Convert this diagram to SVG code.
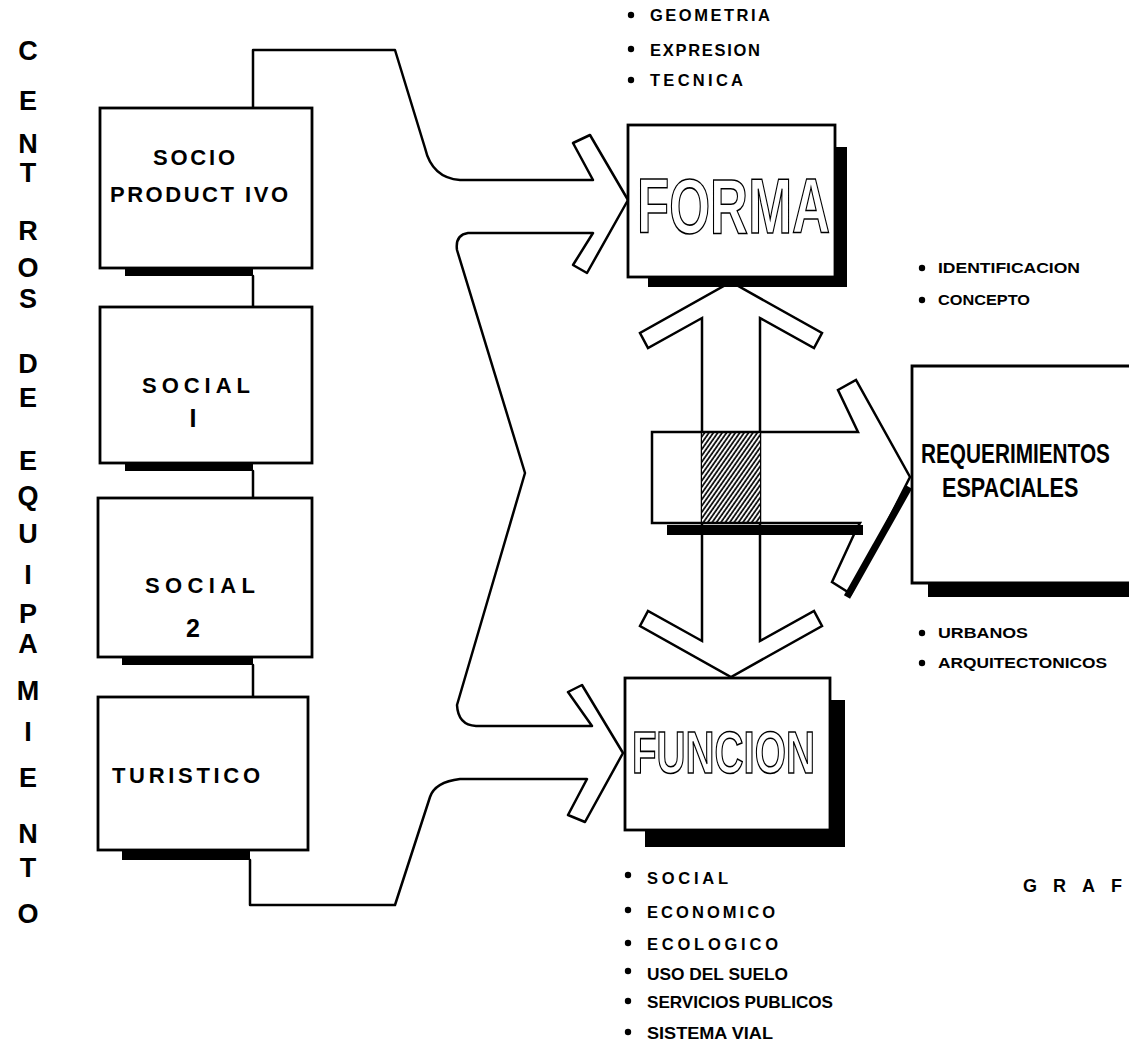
<svg xmlns="http://www.w3.org/2000/svg" width="1129" height="1042" viewBox="0 0 1129 1042">
<defs>
<style>
.ln{fill:none;stroke:#000;stroke-width:2.5;stroke-linejoin:round;stroke-linecap:round}
.box{fill:#fff;stroke:#000;stroke-width:2.8}
.sh{fill:#000;stroke:none}
.t{font-family:"Liberation Sans",Arial,sans-serif;font-weight:bold;fill:#000}
.v{font-size:27px;text-anchor:middle}
.n{font-size:22px}
.li{font-size:16.5px}
.big{fill:#fff;stroke:#000;stroke-width:1.6;font-family:"Liberation Sans",Arial,sans-serif;font-weight:bold}
</style>
<pattern id="hatch" patternUnits="userSpaceOnUse" width="3.6" height="3.6" patternTransform="rotate(35)">
<rect x="0" y="0" width="3.6" height="3.6" fill="#fff"/>
<line x1="1" y1="0" x2="1" y2="3.6" stroke="#000" stroke-width="1.7"/>
</pattern>
</defs>
<rect width="1129" height="1042" fill="#fff"/>

<g id="title">
<text class="t v" x="28" y="60">C</text>
<text class="t v" x="28" y="110">E</text>
<text class="t v" x="28" y="153">N</text>
<text class="t v" x="28" y="182">T</text>
<text class="t v" x="28" y="240">R</text>
<text class="t v" x="28" y="277">O</text>
<text class="t v" x="28" y="308">S</text>
<text class="t v" x="28" y="373">D</text>
<text class="t v" x="28" y="407">E</text>
<text class="t v" x="28" y="470">E</text>
<text class="t v" x="28" y="505">Q</text>
<text class="t v" x="28" y="543">U</text>
<text class="t v" x="28" y="584">I</text>
<text class="t v" x="28" y="623">P</text>
<text class="t v" x="28" y="653">A</text>
<text class="t v" x="28" y="700">M</text>
<text class="t v" x="28" y="741">I</text>
<text class="t v" x="28" y="787">E</text>
<text class="t v" x="28" y="843">N</text>
<text class="t v" x="28" y="877">T</text>
<text class="t v" x="28" y="923">O</text>
</g>

<g id="connectors">
<path class="ln" d="M253,276 V307 M253,471 V498 M253,665 V697"/>
<path class="ln" d="M253,108 V50 H395 L425,148 Q432,178 460,180 H593 L573,143 L590,135 L628,200 L587,273 L573,265 L593,233 H468 Q455,235 457,250 L525,473 L457,705 Q458,725 476,726 H592 L568,692 L582,685 L623,753 L585,822 L568,815 L587,779 H460 Q435,782 430,797 L395,905 H250 V860"/>
<path d="M702,641 V318 L648,348 L640,333 L731,282 L822,333 L814,348 L760,318 V641 L814,611 L822,626 L731,677 L640,626 L648,611 Z" fill="none" stroke="#000" stroke-width="2.5" stroke-linejoin="miter"/>
<rect x="702" y="433" width="58" height="89" fill="url(#hatch)"/>
<path class="ln" d="M652,432 H858 L838,390 L856,380 L910,477 L851,594 L832,582 L856,530 L860,523 H652 Z" style="stroke-linejoin:miter"/>
<rect class="sh" x="667" y="525" width="196" height="10"/>
<line x1="909" y1="487" x2="847" y2="597" stroke="#000" stroke-width="7"/>
</g>

<g id="socio-productivo">
<rect class="sh" x="125" y="266" width="128" height="10"/>
<rect class="box" x="100" y="108" width="212" height="160"/>
<text class="t n" x="153" y="165" textLength="82" lengthAdjust="spacing">SOCIO</text>
<text class="t n" x="110" y="202" textLength="178" lengthAdjust="spacing">PRODUCT IVO</text>
</g>

<g id="social-1">
<rect class="sh" x="125" y="461" width="128" height="10"/>
<rect class="box" x="100" y="307" width="212" height="156"/>
<text class="t n" x="142" y="393" textLength="108" lengthAdjust="spacing">SOCIAL</text>
<text class="t" x="193" y="427" font-size="25" text-anchor="middle">I</text>
</g>

<g id="social-2">
<rect class="sh" x="122" y="655" width="131" height="10"/>
<rect class="box" x="98" y="498" width="214" height="159"/>
<text class="t n" x="145" y="593" textLength="110" lengthAdjust="spacing">SOCIAL</text>
<text class="t" x="193" y="637" font-size="25" text-anchor="middle">2</text>
</g>

<g id="turistico">
<rect class="sh" x="122" y="848" width="128" height="12"/>
<rect class="box" x="98" y="697" width="210" height="153"/>
<text class="t n" x="112" y="783" textLength="148" lengthAdjust="spacing">TURISTICO</text>
</g>

<g id="forma">
<rect class="sh" x="648" y="147" width="199" height="140"/>
<rect class="box" x="628" y="125" width="207" height="152"/>
<text class="big" x="637" y="233" font-size="78" textLength="193" lengthAdjust="spacingAndGlyphs">FORMA</text>
<circle cx="631" cy="15" r="3.2"/>
<circle cx="631" cy="49" r="3.2"/>
<circle cx="631" cy="80" r="3.2"/>
<text class="t li" x="650" y="21" textLength="120" lengthAdjust="spacing">GEOMETRIA</text>
<text class="t li" x="650" y="56" textLength="110" lengthAdjust="spacing">EXPRESION</text>
<text class="t li" x="650" y="86" textLength="93" lengthAdjust="spacing">TECNICA</text>
</g>

<g id="funcion">
<rect class="sh" x="645" y="700" width="200" height="147"/>
<rect class="box" x="625" y="678" width="205" height="152"/>
<text class="big" x="632" y="773" font-size="60" textLength="183" lengthAdjust="spacingAndGlyphs">FUNCION</text>
<circle cx="628" cy="875" r="3.2"/>
<circle cx="628" cy="910" r="3.2"/>
<circle cx="628" cy="943" r="3.2"/>
<circle cx="628" cy="971" r="3.2"/>
<circle cx="628" cy="1001" r="3.2"/>
<circle cx="628" cy="1032" r="3.2"/>
<text class="t li" x="647" y="884" textLength="81" lengthAdjust="spacing">SOCIAL</text>
<text class="t li" x="647" y="918" textLength="128" lengthAdjust="spacing">ECONOMICO</text>
<text class="t li" x="647" y="950" textLength="131" lengthAdjust="spacing">ECOLOGICO</text>
<text class="t li" x="647" y="980" textLength="141" lengthAdjust="spacingAndGlyphs">USO DEL SUELO</text>
<text class="t li" x="647" y="1008" textLength="186" lengthAdjust="spacingAndGlyphs">SERVICIOS PUBLICOS</text>
<text class="t li" x="647" y="1039" textLength="126" lengthAdjust="spacingAndGlyphs">SISTEMA VIAL</text>
</g>

<g id="requerimientos">
<rect class="sh" x="928" y="390" width="201" height="207"/>
<rect x="912" y="366" width="217" height="217" fill="#fff"/>
<path d="M1129,366 H912 V583 H1129" fill="none" stroke="#000" stroke-width="2.8"/>
<text class="t" font-size="27" transform="translate(921,463) scale(0.77,1)">REQUERIMIENTOS</text>
<text class="t" font-size="27" transform="translate(942,497) scale(0.8,1)">ESPACIALES</text>
<circle cx="922" cy="268" r="3.2"/>
<circle cx="922" cy="300" r="3.2"/>
<circle cx="922" cy="633" r="3.2"/>
<circle cx="922" cy="663" r="3.2"/>
<text class="t" x="938" y="273" font-size="14.5" textLength="142" lengthAdjust="spacingAndGlyphs">IDENTIFICACION</text>
<text class="t" x="938" y="305" font-size="14.5" textLength="92" lengthAdjust="spacingAndGlyphs">CONCEPTO</text>
<text class="t" x="938" y="638" font-size="14.5" textLength="90" lengthAdjust="spacingAndGlyphs">URBANOS</text>
<text class="t" x="938" y="668" font-size="14.5" textLength="169" lengthAdjust="spacingAndGlyphs">ARQUITECTONICOS</text>
</g>

<g id="graf">
<text class="t" x="1023" y="892" font-size="18" textLength="99" lengthAdjust="spacing">GRAF</text>
</g>
</svg>
